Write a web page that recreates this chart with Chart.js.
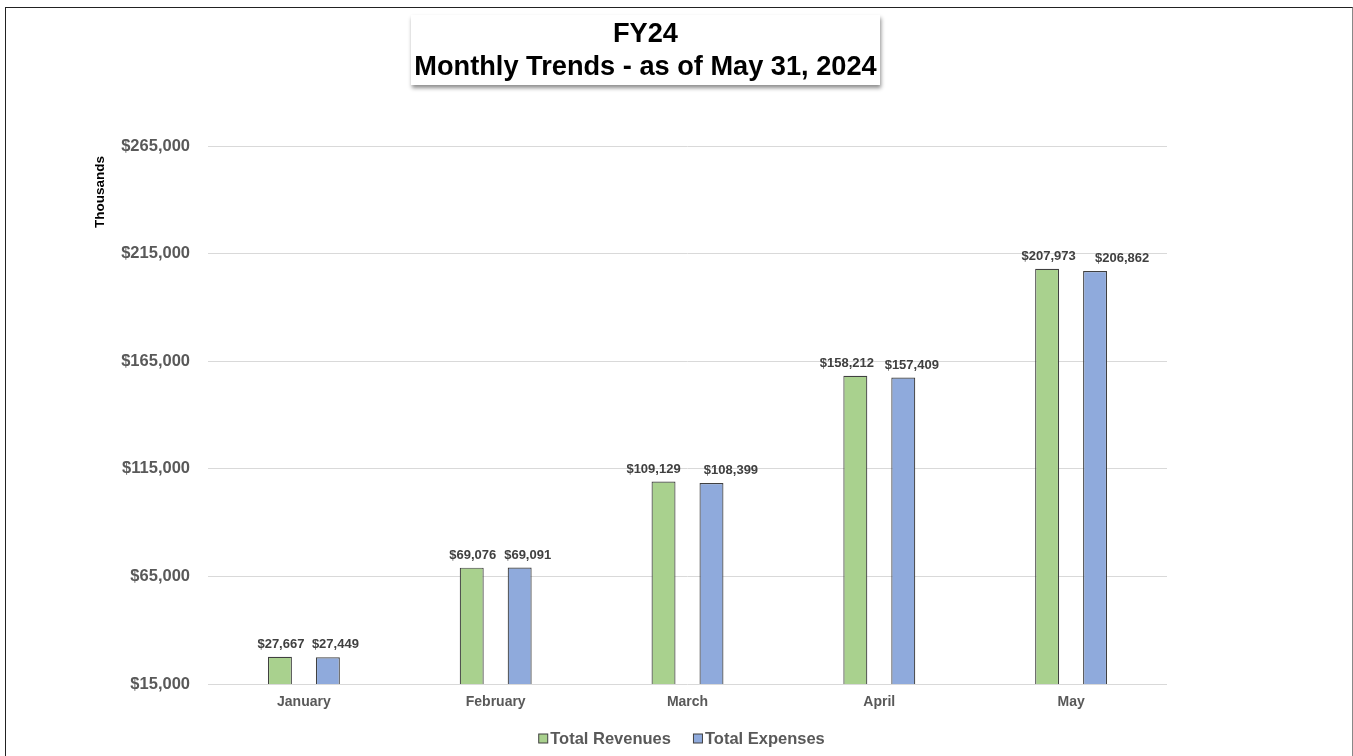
<!DOCTYPE html>
<html>
<head>
<meta charset="utf-8">
<script src="https://cdn.jsdelivr.net/npm/chart.js@4.4.1/dist/chart.umd.min.js"></script>
<style>
  html, body { margin: 0; padding: 0; background: #fff; width: 1353px; height: 756px; overflow: hidden; }
  #frame { position: absolute; left: 5px; top: 7px; width: 1346px; height: 760px; border-top: 1px solid #222; border-left: 1px solid #222; border-right: 1px solid #888; }
  #wrap { position: absolute; left: 0; top: 0; width: 1353px; height: 756px; }
  #title { position: absolute; left: 411px; top: 15px; width: 469px; height: 70px; background: #fff;
    box-shadow: 1px 3px 4px rgba(0,0,0,0.45); font-family: "Liberation Sans", Arial, sans-serif; font-weight: bold;
    font-size: 27.2px; line-height: 33px; text-align: center; color: #000; padding-top: 1px; box-sizing: border-box; white-space: nowrap; }
</style>
</head>
<body>
<div id="frame"></div>
<div id="wrap"><canvas id="c" width="1353" height="756"></canvas></div>
<div id="title">FY24<br>Monthly Trends - as of May 31, 2024</div>
<script>
const categories = ["January", "February", "March", "April", "May"];
const totalRevenues = [27667, 69076, 109129, 158212, 207973];
const totalExpenses = [27449, 69091, 108399, 157409, 206862];
const yTicks = [15000, 65000, 115000, 165000, 215000, 265000];

const fmt = v => "$" + v.toLocaleString("en-US");
const FONT = '"Liberation Sans", Arial, sans-serif';

// horizontal nudges of the value labels (px), as placed in the original
const labelNudge = [[1, 1, -10, -8.5, 1.5], [7.5, 8, 19.5, 8.5, 27]];

const dataLabels = {
  id: "dataLabels",
  afterDatasetsDraw(chart) {
    const ctx = chart.ctx;
    ctx.save();
    ctx.font = "bold 13px " + FONT;
    ctx.fillStyle = "#404040";
    ctx.textAlign = "center";
    ctx.textBaseline = "bottom";
    chart.data.datasets.forEach((ds, i) => {
      chart.getDatasetMeta(i).data.forEach((bar, j) => {
        ctx.fillText(fmt(ds.data[j]), bar.x + labelNudge[i][j], bar.y - 6);
      });
    });
    ctx.restore();
  }
};

const axisTitle = {
  id: "axisTitle",
  afterDraw(chart) {
    const ctx = chart.ctx;
    ctx.save();
    ctx.font = "bold 13.5px " + FONT;
    ctx.fillStyle = "#000";
    ctx.translate(100, 192);
    ctx.rotate(-Math.PI / 2);
    ctx.textAlign = "center";
    ctx.textBaseline = "middle";
    ctx.fillText("Thousands", 0, 0);
    ctx.restore();
  }
};

const customLegend = {
  id: "customLegend",
  afterDraw(chart) {
    const ctx = chart.ctx;
    ctx.save();
    ctx.font = "bold 16.5px " + FONT;
    const items = chart.data.datasets.map(ds => ({ text: ds.label, color: ds.backgroundColor }));
    const box = 9, gap = 3, between = 22;
    const widths = items.map(it => box + gap + ctx.measureText(it.text).width);
    const total = widths.reduce((a, b) => a + b, 0) + between * (items.length - 1);
    const area = chart.chartArea;
    let x = (area.left + area.right) / 2 - 6 - total / 2;
    const y = 738;
    items.forEach((it, i) => {
      ctx.fillStyle = it.color;
      ctx.fillRect(x + 0.5, y - box / 2 + 0.5, box, box);
      ctx.strokeStyle = "#404040";
      ctx.lineWidth = 1;
      ctx.strokeRect(x + 0.5, y - box / 2 + 0.5, box, box);
      ctx.fillStyle = "#595959";
      ctx.textAlign = "left";
      ctx.textBaseline = "middle";
      ctx.fillText(it.text, x + box + gap, y + 1);
      x += widths[i] + between;
    });
    ctx.restore();
  }
};

new Chart(document.getElementById("c"), {
  type: "bar",
  data: {
    labels: categories,
    datasets: [
      { label: "Total Revenues", data: totalRevenues, backgroundColor: "#a9d18e", borderColor: "#404040", borderWidth: 1.2, borderSkipped: false },
      { label: "Total Expenses", data: totalExpenses, backgroundColor: "#8faadc", borderColor: "#404040", borderWidth: 1.2, borderSkipped: false }
    ]
  },
  options: {
    responsive: false,
    animation: false,
    categoryPercentage: 0.5,
    barPercentage: 0.5,
    layout: { padding: { left: 20, right: 186, top: 146, bottom: 0 } },
    plugins: {
      legend: { display: false },
      tooltip: { enabled: false }
    },
    scales: {
      x: {
        afterFit(scale) { scale.height = 72; },
        grid: { display: false },
        border: { display: false },
        ticks: { color: "#595959", font: { family: FONT, size: 14, weight: "bold" }, padding: 2 }
      },
      y: {
        min: 15000, max: 265000,
        afterFit(scale) { scale.width = 188; },
        afterBuildTicks(scale) { scale.ticks = yTicks.map(v => ({ value: v })); },
        grid: { color: "#d9d9d9", drawTicks: false },
        border: { display: false },
        ticks: { color: "#595959", font: { family: FONT, size: 16.5, weight: "bold" }, padding: 18, callback: v => fmt(v) }
      }
    }
  },
  plugins: [dataLabels, axisTitle, customLegend]
});
</script>
</body>
</html>
